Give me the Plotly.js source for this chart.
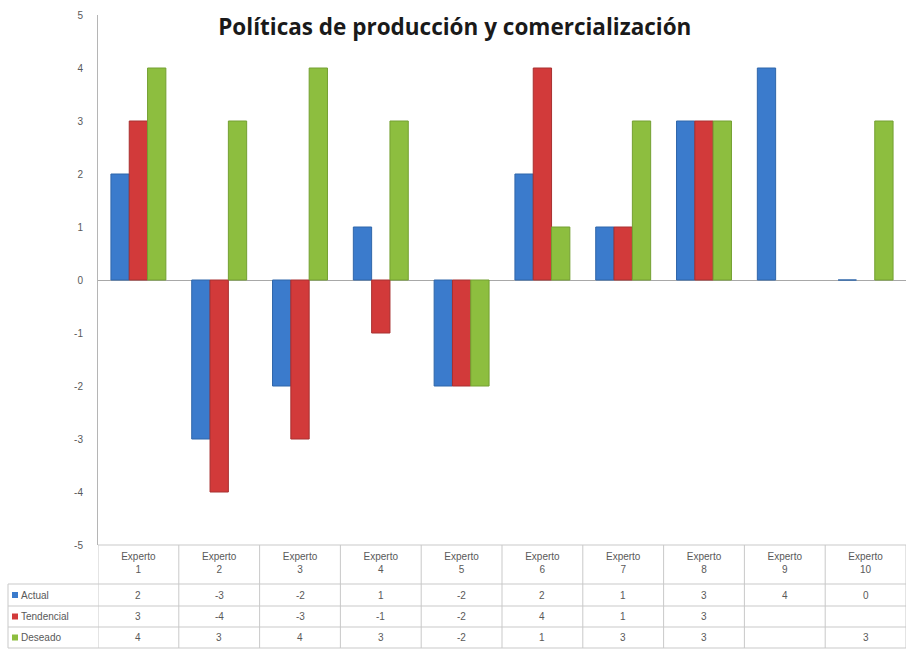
<!DOCTYPE html>
<html>
<head>
<meta charset="utf-8">
<script src="https://cdn.plot.ly/plotly-3.0.1.min.js"></script>
<style>html,body{margin:0;padding:0;background:#fff;}#chart{width:906px;height:650px;}</style>
</head>
<body>
<div id="chart"></div>
<script>
const titleText = 'Políticas de producción y comercialización';
const categories = ['Experto 1','Experto 2','Experto 3','Experto 4','Experto 5','Experto 6','Experto 7','Experto 8','Experto 9','Experto 10'];
const seriesNames = ['Actual','Tendencial','Deseado'];
const actual     = [2, -3, -2, 1, -2, 2, 1, 3, 4, 0];
const tendencial = [3, -4, -3, -1, -2, 4, 1, 3, null, null];
const deseado    = [4, 3, 4, 3, -2, 1, 3, 3, null, 3];
const yTicks = [-5,-4,-3,-2,-1,0,1,2,3,4,5];

const colors = ['#3B7BCC', '#D23A3A', '#8DBE3F'];
const edgeColors = ['#2F66AA', '#A83030', '#74A032'];
const seriesValues = [actual, tendencial, deseado];

// geometry (pixels)
const W = 906, H = 650, ML = 98, MR = 0, MT = 15, MB = 105;
const PW = W - ML - MR, PH = H - MT - MB;
const px2py = py => (H - MB - py) / PH;   // pixel y -> paper y
const px2px = px => (px - ML) / PW;       // pixel x -> paper x

const traces = seriesNames.map((name, i) => ({
  type: 'bar',
  name: name,
  x: categories,
  y: seriesValues[i],
  marker: {color: colors[i], line: {color: edgeColors[i], width: 1}},
  hoverinfo: 'x+y+name'
}));

const rowLines = [545, 584, 606, 627, 648];
const rowCenters = [595, 616.5, 637.5];
const lineColor = '#c9c9c9';
const shapes = [];
const annotations = [];

// horizontal table lines
rowLines.forEach((py, k) => {
  shapes.push({type: 'line', xref: 'paper', yref: 'paper',
    x0: k === 0 ? 0 : px2px(8), x1: 1, y0: px2py(py), y1: px2py(py),
    line: {color: lineColor, width: 1}});
});
// vertical table lines at category boundaries
for (let i = 0; i <= categories.length; i++) {
  shapes.push({type: 'line', xref: 'x', yref: 'paper',
    x0: i - 0.5, x1: i - 0.5, y0: px2py(545), y1: px2py(648),
    line: {color: lineColor, width: 1}});
}
// left border of legend column
shapes.push({type: 'line', xref: 'paper', yref: 'paper',
  x0: px2px(8), x1: px2px(8), y0: px2py(584), y1: px2py(648),
  line: {color: lineColor, width: 1}});

// legend keys + names inside the table
seriesNames.forEach((name, i) => {
  const cy = rowCenters[i];
  shapes.push({type: 'rect', xref: 'paper', yref: 'paper',
    x0: px2px(12), x1: px2px(18), y0: px2py(cy - 3), y1: px2py(cy + 3),
    fillcolor: colors[i], line: {width: 0}});
  annotations.push({xref: 'paper', yref: 'paper', x: px2px(19), y: px2py(cy),
    xanchor: 'left', yanchor: 'middle', showarrow: false, text: name,
    font: {family: 'Liberation Sans, Arial, sans-serif', size: 10, color: '#595959'}});
  seriesValues[i].forEach((v, j) => {
    if (v === null) return;
    annotations.push({xref: 'x', yref: 'paper', x: categories[j], y: px2py(cy),
      xanchor: 'center', yanchor: 'middle', showarrow: false, text: String(v),
      font: {family: 'Liberation Sans, Arial, sans-serif', size: 10, color: '#595959'}});
  });
});

const layout = {
  width: W, height: H,
  margin: {l: ML, r: MR, t: MT, b: MB, pad: 0},
  paper_bgcolor: '#ffffff', plot_bgcolor: '#ffffff',
  showlegend: false,
  barmode: 'group',
  bargap: 0.32,
  bargroupgap: 0,
  title: {text: '<b>' + titleText + '</b>', x: 0.502, xanchor: 'center', y: 0.958, yanchor: 'middle',
    font: {family: 'Open Sans, Arial, sans-serif', size: 22.5, color: '#1a1a1a'}},
  xaxis: {
    type: 'category',
    range: [-0.5, categories.length - 0.5],
    tickmode: 'array',
    tickvals: categories,
    ticktext: categories.map(c => c.replace(' ', '<br>')),
    ticks: '', showline: false, showgrid: false, zeroline: false,
    tickfont: {family: 'Liberation Sans, Arial, sans-serif', size: 10, color: '#595959'},
    ticklabelstandoff: 4,
    fixedrange: true
  },
  yaxis: {
    range: [-5, 5],
    tickmode: 'array',
    tickvals: yTicks,
    ticktext: yTicks.map(String),
    showgrid: false,
    showline: true, linecolor: '#b5b5b5', linewidth: 1,
    zeroline: true, zerolinecolor: '#a8a8a8', zerolinewidth: 1,
    ticks: '',
    ticklabelstandoff: 12,
    tickfont: {family: 'Liberation Sans, Arial, sans-serif', size: 10, color: '#595959'},
    fixedrange: true
  },
  shapes: shapes,
  annotations: annotations
};

Plotly.newPlot('chart', traces, layout, {displayModeBar: false, staticPlot: true});
</script>
</body>
</html>
